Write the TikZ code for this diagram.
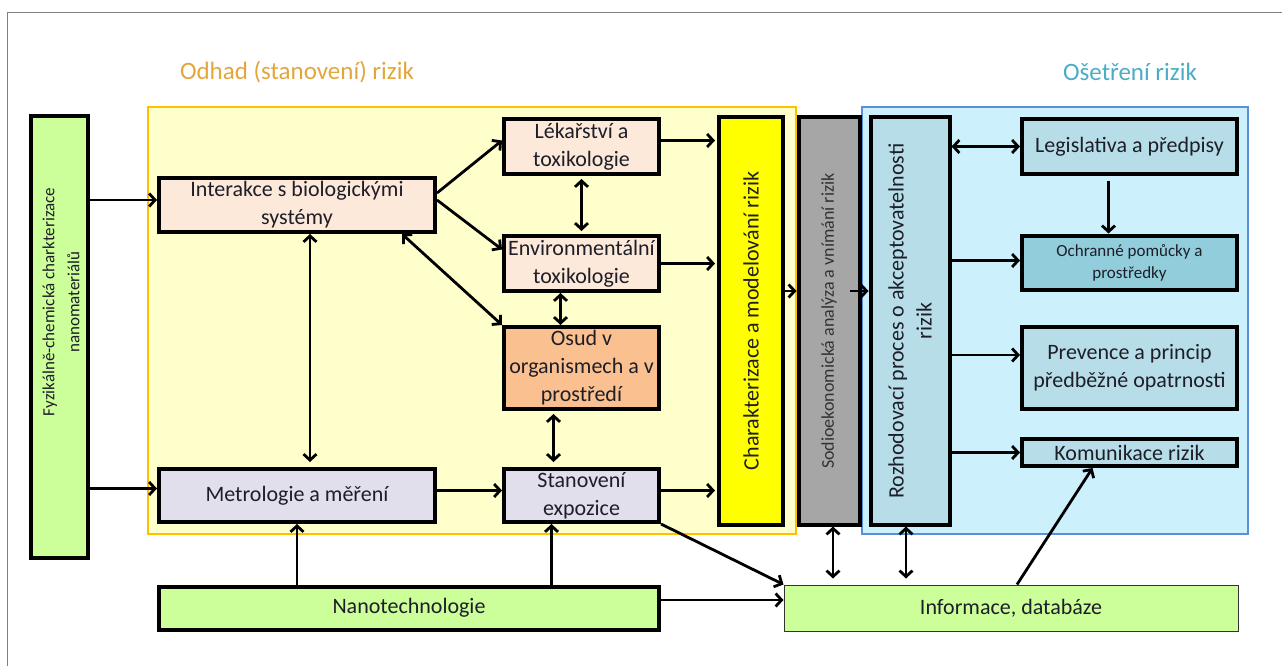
\documentclass[tikz,border=0pt]{standalone}
\usepackage{fontspec}
\setmainfont{Carlito}
\usetikzlibrary{arrows.meta,positioning}
\definecolor{ink}{HTML}{1E1E28}
\definecolor{gold}{HTML}{E3A63A}
\definecolor{aqua}{HTML}{4BACC6}
\definecolor{lemon}{HTML}{FFFFCC}
\definecolor{amber}{HTML}{FFC000}
\definecolor{sky}{HTML}{CCF0FC}
\definecolor{skyline}{HTML}{5B8FD8}
\definecolor{lime}{HTML}{CCFF99}
\definecolor{peach}{HTML}{FDE9D9}
\definecolor{apricot}{HTML}{FAC090}
\definecolor{lilac}{HTML}{E2DFEC}
\definecolor{sun}{HTML}{FFFF00}
\definecolor{slate}{HTML}{A6A6A6}
\definecolor{tealA}{HTML}{B7DEE8}
\definecolor{tealB}{HTML}{92CDDC}

\begin{document}
\begin{tikzpicture}[x=1pt,y=-1pt,
  box/.style={draw=black,line width=4pt,inner sep=2pt,align=center,text=ink,
              font=\fontsize{22}{28}\selectfont},
  vbox/.style={box,rotate=90},
  small/.style={font=\fontsize{17}{22}\selectfont},
  arr/.style={-{Straight Barb[length=6pt,width=13pt]},line width=2.8pt,color=black},
  darr/.style={{Straight Barb[length=6pt,width=13pt]}-{Straight Barb[length=6pt,width=13pt]},
               line width=2.8pt,color=black},
  title/.style={font=\fontsize{25}{30}\selectfont}]
\useasboundingbox (0,0) rectangle (1282,666);
\draw[gray,line width=1pt] (7,666) -- (7,13) -- (1282,13);
\filldraw[fill=lemon,draw=amber,line width=1.5pt] (148,107) rectangle (796,534);
\filldraw[fill=sky,draw=skyline,line width=1.5pt] (862,107) rectangle (1248,534);
\node[title,text=gold] (odh) at (297,72) {Odhad (stanovení) rizik};
\node[title,text=aqua] (ose) at (1130,72) {Ošetření rizik};

\node[vbox,fill=lime,minimum width=442pt,minimum height=57pt] (fyz) at (59,337) {};
\node[rotate=90,align=center,text=ink,font=\fontsize{17}{25}\selectfont] (fyzt) at (61,302)
  {Fyzikálně-chemická charkterizace\\nanomateriálů};
\node[box,fill=peach,minimum width=276pt,minimum height=54pt] (int) at (297,205) {Interakce s biologickými\\systémy};
\node[box,fill=peach,minimum width=155pt,minimum height=55pt] (lek) at (581.5,146.5) {Lékařství a\\toxikologie};
\node[box,fill=peach,minimum width=155pt,minimum height=55pt] (env) at (581.5,263.5) {Environmentální\\toxikologie};
\node[box,fill=apricot,minimum width=155pt,minimum height=82pt] (osud) at (581.5,368) {Osud v\\organismech a v\\prostředí};
\node[box,fill=lilac,minimum width=276pt,minimum height=53pt] (met) at (297,495.5) {Metrologie a měření};
\node[box,fill=lilac,minimum width=155pt,minimum height=53pt] (sta) at (581.5,495.5) {Stanovení\\expozice};
\node[vbox,fill=sun,minimum width=407pt,minimum height=64pt] (chr) at (751,321) {Charakterizace a modelování rizik};
\node[vbox,fill=slate,minimum width=407pt,minimum height=61pt,text=black!80,
      font=\fontsize{18}{22}\selectfont] (soc) at (829,321) {Sodioekonomická analýza a vnímání rizik};
\node[vbox,fill=tealA,minimum width=407pt,minimum height=79pt] (roz) at (910,321) {Rozhodovací proces o akceptovatelnosti\\rizik};
\node[box,fill=tealA,minimum width=215pt,minimum height=55pt] (leg) at (1129.5,146.5) {Legislativa a předpisy};
\node[box,small,fill=tealB,minimum width=215pt,minimum height=54pt] (och) at (1129.5,262.5) {Ochranné pomůcky a\\prostředky};
\node[box,fill=tealA,minimum width=215pt,minimum height=82pt] (pre) at (1129.5,368) {Prevence a princip\\předběžné opatrnosti};
\node[box,fill=tealA,minimum width=215pt,minimum height=27pt] (kom) at (1129.5,452.5) {Komunikace rizik};
\node[box,fill=lime,minimum width=500pt,minimum height=43pt] (nan) at (409,608) {Nanotechnologie};
\node[box,fill=lime,line width=1pt,draw=black!80,minimum width=454pt,minimum height=46pt] (inf) at (1011,608) {Informace, databáze};

\draw[arr] ([yshift=5pt]fyz.south |- int.west) -- ([yshift=5pt]int.west);
\draw[arr] ([yshift=7pt]fyz.south |- met.west) -- ([yshift=7pt]met.west);
\draw[arr] ([yshift=12pt]int.east) -- ([yshift=6pt]lek.west);
\draw[arr] ([yshift=5pt]int.east) -- ([yshift=14pt]env.west);
\draw[darr] ([xshift=-35pt]int.south east) -- (osud.north west);
\draw[darr,shorten >=5pt] ([xshift=13pt]int.south) -- ([xshift=13pt]met.north);
\draw[darr,shorten <=3pt,shorten >=3pt] (lek.south) -- (env.north);
\draw[darr] ([xshift=-21pt]env.south) -- ([xshift=-21pt]osud.north);
\draw[darr,shorten <=3pt,shorten >=5pt] ([xshift=-28pt]osud.south) -- ([xshift=-28pt]sta.north);
\draw[arr] ([yshift=5pt]met.east) -- ([yshift=5pt]sta.west);
\draw[arr,shorten >=2pt] ([yshift=6pt]lek.east) -- ([yshift=6pt]lek.east -| chr.north);
\draw[arr,shorten >=2pt] (env.east) -- (env.east -| chr.north);
\draw[arr,shorten >=2pt] ([yshift=5pt]sta.east) -- ([yshift=5pt]sta.east -| chr.north);
\draw[arr] ([yshift=30pt]chr.south) -- ([yshift=30pt]soc.north);
\draw[arr] ([xshift=-12pt,yshift=30pt]soc.south) -- ([yshift=30pt]roz.north);
\draw[darr] (roz.south |- leg.west) -- (leg.west);
\draw[arr,shorten <=5pt] ([xshift=-21pt]leg.south) -- ([xshift=-21pt]och.north);
\draw[arr] ([yshift=2pt]roz.south |- och.west) -- ([yshift=2pt]och.west);
\draw[arr] ([yshift=13pt]roz.south |- pre.west) -- ([yshift=13pt]pre.west);
\draw[arr] (roz.south |- kom.west) -- (kom.west);
\draw[darr,shorten >=6pt] ([xshift=4pt]soc.west) -- ([xshift=4pt]soc.west |- inf.north);
\draw[darr,shorten >=6pt] ([xshift=-4pt]roz.west) -- ([xshift=-4pt]roz.west |- inf.north);
\draw[arr] ([xshift=6pt]inf.north) -- ([xshift=-37pt]kom.south);
\draw[arr] (sta.south east) -- (inf.north west);
\draw[arr] ([yshift=8pt]nan.east) -- ([yshift=8pt]inf.west);
\draw[arr] (met.south |- nan.north) -- (met.south);
\draw[arr] ([xshift=-30pt]sta.south |- nan.north) -- ([xshift=-30pt]sta.south);
\end{tikzpicture}
\end{document}
